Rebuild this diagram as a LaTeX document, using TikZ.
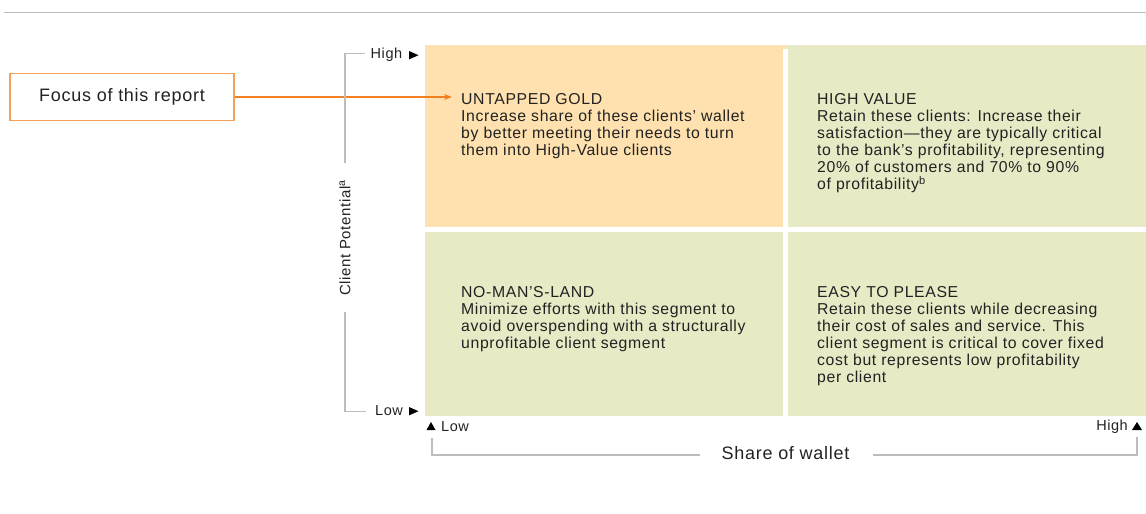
\documentclass[tikz,border=0pt]{standalone}
\usepackage{fontspec}
\setmainfont{Liberation Sans}[LetterSpace=4]
\usetikzlibrary{arrows.meta}
\definecolor{gold}{HTML}{FEE1AE}
\definecolor{sage}{HTML}{E8EAC6}
\definecolor{ornline}{HTML}{F5A056}
\definecolor{arrowc}{HTML}{F27F22}
\definecolor{axisgrey}{HTML}{BDBDBD}
\definecolor{txt}{HTML}{222222}
\tikzset{
  quad/.style={anchor=north west, inner sep=0pt, outer sep=0pt},
  quadtext/.style={anchor=north west, inner sep=0pt, align=left, text=txt,
    font=\fontsize{15.8}{17}\selectfont},
  axislabel/.style={inner sep=0pt, text=txt, font=\fontsize{14.5}{17}\selectfont},
  axisline/.style={draw=axisgrey, line width=1.2pt},
  tri/.style={fill=black},
  pointer/.style={draw=arrowc, line width=1.2pt, -{Stealth[length=8pt,width=6pt]}},
}
\begin{document}
\begin{tikzpicture}[x=1pt,y=-1pt]
\useasboundingbox (0,0) rectangle (1146,514);
% top rule
\draw[axisgrey, line width=1.2pt] (4,12.3) -- (1146,12.3);
% quadrants
\fill[gold] (425,45) rectangle (785,49);
\fill[sage] (785,45) rectangle (1146,49);
\node[quad, fill=gold, minimum width=357.7pt, minimum height=182.3pt] (ug) at (425,45) {};
\node[quad, fill=sage, minimum width=358.5pt, minimum height=182.3pt] (hv) at (787.5,45) {};
\node[quad, fill=sage, minimum width=357.7pt, minimum height=184pt] (nm) at (425,231.7) {};
\node[quad, fill=sage, minimum width=358.5pt, minimum height=184pt] (ep) at (787.5,231.7) {};
% quadrant texts
\node[quadtext] (ugt) at (461,93) {UNTAPPED GOLD\\Increase share of these clients' wallet\\by better meeting their needs to turn\\them into High-Value clients};
\node[quadtext] (hvt) at (817,93) {HIGH VALUE\\Retain these clients: Increase their\\satisfaction---they are typically critical\\to the bank's profitability, representing\\20\% of customers and 70\% to 90\%\\of profitability\textsuperscript{b}};
\node[quadtext] (nmt) at (461,286) {NO-MAN'S-LAND\\Minimize efforts with this segment to\\avoid overspending with a structurally\\unprofitable client segment};
\node[quadtext] (ept) at (817,286) {EASY TO PLEASE\\Retain these clients while decreasing\\their cost of sales and service. This\\client segment is critical to cover fixed\\cost but represents low profitability\\per client};
% focus box and arrow
\node[draw=ornline, line width=1.2pt, minimum width=224pt, minimum height=47pt, inner sep=0pt, text=txt,
  font=\fontsize{18}{20}\selectfont] (focus) at (122,97) {Focus of this report};
\coordinate (ugin) at (452,97);
\draw[pointer] (focus.east) -- (ugin);
% vertical axis
\node[axislabel, rotate=90, font=\fontsize{15}{17}\selectfont] (cp) at (345,238) {Client Potential\textsuperscript{a}};
\coordinate (vtop) at (345,53.3);
\coordinate (vtopend) at (365,53.3);
\coordinate (vgap1) at (345,163);
\coordinate (vgap2) at (345,312);
\coordinate (vbot) at (345,411.5);
\coordinate (vbotend) at (366,411.5);
\draw[axisline] (vtopend) -- (vtop) -- (vgap1);
\draw[axisline] (vgap2) -- (vbot) -- (vbotend);
\node[axislabel, anchor=west] (yhigh) at (370.5,55) {High};
\fill[tri] (409,51) -- (418.5,55.2) -- (409,59.4) -- cycle;
\node[axislabel, anchor=west] (ylow) at (375,411) {Low};
\fill[tri] (409,407) -- (418.5,411.2) -- (409,415.4) -- cycle;
% horizontal axis
\fill[tri] (426.5,430) -- (431,422) -- (435.5,430) -- cycle;
\node[axislabel, anchor=west] (xlow) at (441,426.5) {Low};
\fill[tri] (1132,430) -- (1137,422) -- (1142,430) -- cycle;
\node[axislabel, anchor=east] (xhigh) at (1128,426.5) {High};
\node[inner sep=0pt, text=txt, font=\fontsize{18}{20}\selectfont] (sw) at (785.5,453) {Share of wallet};
\coordinate (hl) at (432,438);
\coordinate (hlb) at (432,455);
\coordinate (hgap1) at (700,455);
\coordinate (hgap2) at (873,455);
\coordinate (hrb) at (1137,455);
\coordinate (hr) at (1137,437);
\draw[axisline] (hl) -- (hlb) -- (hgap1);
\draw[axisline] (hgap2) -- (hrb) -- (hr);
\end{tikzpicture}
\end{document}
